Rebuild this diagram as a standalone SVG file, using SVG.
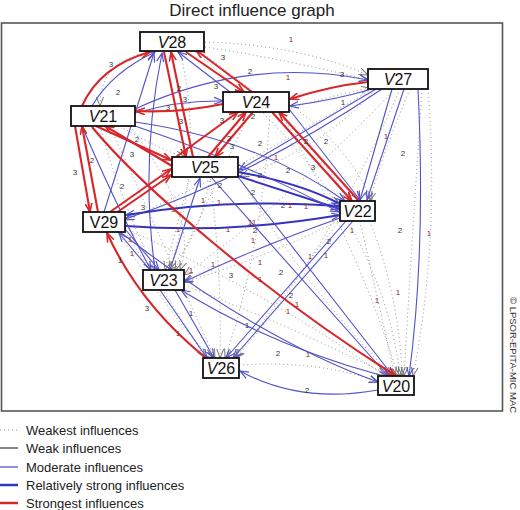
<svg xmlns="http://www.w3.org/2000/svg" width="520" height="510" viewBox="0 0 520 510">
<style>
text{font-family:"Liberation Sans",Arial,sans-serif}
.title{font-size:17px;fill:#222}
.frame{fill:#fff;stroke:#555;stroke-width:1.6}
.node rect{fill:#fff;stroke:#111;stroke-width:1.8}
.node text{font-size:16px;fill:#111;text-anchor:middle}
.r{fill:none;stroke:#d8262a;stroke-width:2.1;marker-end:url(#ar)}
.b{fill:none;stroke:#5252c8;stroke-width:1.1;marker-end:url(#ab)}
.bb{fill:none;stroke:#3434bf;stroke-width:2;marker-end:url(#ab)}
.d{fill:none;stroke:#8c8c8c;stroke-width:1;stroke-dasharray:1 3;marker-end:url(#ad)}
.lb{font-size:8px;fill:#333;text-anchor:middle}
.l1{font-size:8px;fill:#8b2a2a;text-anchor:middle}
.leg{font-size:13px;fill:#222}
.copy{font-size:9.5px;fill:#333}
</style>
<defs>
<marker id="ar" markerUnits="userSpaceOnUse" markerWidth="10" markerHeight="8" refX="9" refY="4" orient="auto"><path d="M0,0.5 L9,4 L0,7.5" fill="none" stroke="#d8262a" stroke-width="1.6"/></marker>
<marker id="ab" markerUnits="userSpaceOnUse" markerWidth="10" markerHeight="8" refX="9" refY="4" orient="auto"><path d="M0,0.5 L9,4 L0,7.5" fill="none" stroke="#5252c8" stroke-width="1.2"/></marker>
<marker id="ad" markerUnits="userSpaceOnUse" markerWidth="10" markerHeight="8" refX="9" refY="4" orient="auto"><path d="M0,0.5 L9,4 L0,7.5" fill="none" stroke="#777" stroke-width="1"/></marker>
</defs>
<rect x="0" y="0" width="520" height="510" fill="#fff"/>
<text class="title" x="252" y="15.5" text-anchor="middle">Direct influence graph</text>
<rect class="frame" x="1.5" y="23" width="501" height="388"/>

<g id="connectors">
<!-- weakest (dotted) -->
<path class="d" d="M205,42 Q300,45 368,75"/>
<path class="d" d="M205,47 Q290,60 368,80"/>
<path class="d" d="M291,108 Q330,96 370,88"/>
<path class="d" d="M428,89 Q440,240 413,376"/>
<path class="d" d="M422,89 Q412,240 404,376"/>
<path class="d" d="M400,89 Q330,250 236,358"/>
<path class="d" d="M395,89 Q290,200 184,275"/>
<path class="d" d="M250,112 L175,270"/>
<path class="d" d="M270,112 Q262,250 225,358"/>
<path class="d" d="M360,221 L395,376"/>
<path class="d" d="M370,221 Q400,300 402,376"/>
<path class="d" d="M340,220 Q280,300 235,358"/>
<path class="d" d="M210,177 Q222,270 220,358"/>
<path class="d" d="M118,232 Q180,330 212,358"/>
<path class="d" d="M110,126 Q170,260 215,358"/>
<path class="d" d="M180,52 Q205,150 170,270"/>
<path class="d" d="M200,52 Q300,120 350,201"/>
<path class="d" d="M190,177 L165,270"/>
<path class="d" d="M125,228 Q280,300 385,376"/>
<path class="d" d="M184,285 Q300,330 390,376"/>
<path class="d" d="M120,126 Q160,150 185,157"/>
<path class="d" d="M239,365 Q320,360 378,382"/>
<path class="d" d="M195,52 Q380,200 400,376"/>
<path class="d" d="M372,89 Q240,170 125,220"/>
<path class="d" d="M280,112 Q360,250 398,376"/>
<path class="d" d="M100,126 Q120,200 155,270"/>
<path class="d" d="M375,90 Q320,150 240,176"/>
<path class="d" d="M410,89 Q380,160 370,201"/>
<path class="d" d="M300,112 Q350,150 372,201"/>
<path class="d" d="M240,177 Q300,280 392,376"/>
<path class="d" d="M125,232 Q170,300 205,358"/>
<path class="d" d="M130,126 Q200,220 180,270"/>
<path class="d" d="M338,221 Q260,260 184,282"/>
<path class="d" d="M210,177 Q200,240 168,270"/>
<path class="d" d="M150,52 Q100,60 100,106"/>
<!-- moderate / relatively strong (blue) -->
<path class="b" d="M92,106 Q112,72 155,52"/>
<path class="b" d="M135,109 Q250,56 368,80"/>
<path class="b" d="M135,113 Q180,100 223,101"/>
<path class="b" d="M372,89 Q335,100 290,106"/>
<path class="b" d="M104,212 L154,53"/>
<path class="b" d="M155,270 Q140,160 162,53"/>
<path class="b" d="M230,92 L178,52"/>
<path class="b" d="M135,122 Q260,140 345,201"/>
<path class="bb" d="M238,172 Q300,183 340,204"/>
<path class="bb" d="M238,176 Q300,196 340,209"/>
<path class="b" d="M289,109 L360,200"/>
<path class="b" d="M392,89 L360,200"/>
<path class="b" d="M404,89 L367,200"/>
<path class="b" d="M376,89 L239,170"/>
<path class="b" d="M382,89 Q250,178 125,219"/>
<path class="b" d="M418,89 Q426,250 409,376"/>
<path class="bb" d="M340,206 Q230,198 126,215"/>
<path class="bb" d="M126,226 Q230,234 340,215"/>
<path class="b" d="M150,270 L119,233"/>
<path class="b" d="M125,229 L159,270"/>
<path class="b" d="M82,126 Q118,210 151,270"/>
<path class="b" d="M353,221 L233,358"/>
<path class="b" d="M346,221 L226,358"/>
<path class="b" d="M211,177 L388,376"/>
<path class="b" d="M238,177 L393,376"/>
<path class="b" d="M380,375 Q270,345 181,290"/>
<path class="b" d="M378,390 Q300,404 240,371"/>
<path class="b" d="M120,232 Q260,340 378,382"/>
<path class="b" d="M160,290 L207,358"/>
<path class="b" d="M175,290 L214,358"/>
<path class="b" d="M170,270 L200,178"/>
<path class="b" d="M135,126 Q250,165 339,212"/>
<path class="b" d="M340,218 Q250,250 184,282"/>
<!-- strongest (red) -->
<path class="r" d="M82,106 Q100,66 150,52"/>
<path class="r" d="M164,52 L186,157"/>
<path class="r" d="M193,157 L171,52"/>
<path class="r" d="M186,52 L244,92"/>
<path class="r" d="M252,92 L196,50"/>
<path class="r" d="M223,104 Q180,113 136,111"/>
<path class="r" d="M368,82 Q330,86 290,99"/>
<path class="r" d="M272,112 L352,201"/>
<path class="r" d="M359,201 L279,112"/>
<path class="r" d="M208,157 L246,112"/>
<path class="r" d="M253,112 L215,157"/>
<path class="r" d="M176,157 L238,112"/>
<path class="r" d="M96,126 L171,160"/>
<path class="r" d="M172,166 L105,126"/>
<path class="r" d="M75,126 L90,212"/>
<path class="r" d="M98,212 L82,126"/>
<path class="r" d="M110,212 L171,169"/>
<path class="r" d="M116,213 L171,175"/>
<path class="r" d="M92,127 C140,185 260,290 396,376"/>
<path class="r" d="M206,358 Q140,305 107,233"/>
</g>

<g id="labels">
<text class="lb" x="111" y="67">3</text>
<text class="lb" x="118" y="95">2</text>
<text class="lb" x="179" y="91">2</text>
<text class="lb" x="185" y="102">3</text>
<text class="lb" x="168" y="110">3</text>
<text class="lb" x="181" y="124">3</text>
<text class="lb" x="137" y="142">2</text>
<text class="lb" x="132" y="157">3</text>
<text class="lb" x="75" y="175">3</text>
<text class="lb" x="92" y="163">2</text>
<text class="lb" x="223" y="60">3</text>
<text class="lb" x="250" y="74">2</text>
<text class="lb" x="216" y="89">3</text>
<text class="lb" x="222" y="123">3</text>
<text class="lb" x="229" y="141">2</text>
<text class="lb" x="232" y="149">3</text>
<text class="lb" x="253" y="119">2</text>
<text class="l1" x="291" y="42">1</text>
<text class="l1" x="288" y="80">1</text>
<text class="lb" x="342" y="77">3</text>
<text class="lb" x="343" y="105">1</text>
<text class="l1" x="386" y="139">1</text>
<text class="lb" x="403" y="156">2</text>
<text class="lb" x="260" y="146">2</text>
<text class="lb" x="306" y="144">2</text>
<text class="lb" x="326" y="144">2</text>
<text class="l1" x="276" y="160">1</text>
<text class="lb" x="313" y="170">3</text>
<text class="lb" x="288" y="173">2</text>
<text class="lb" x="260" y="178">2</text>
<text class="lb" x="220" y="188">2</text>
<text class="lb" x="253" y="195">2</text>
<text class="lb" x="122" y="189">2</text>
<text class="lb" x="143" y="210">3</text>
<text class="l1" x="173" y="212">1</text>
<text class="l1" x="203" y="203">1</text>
<text class="l1" x="219" y="205">1</text>
<text class="lb" x="283" y="208">2</text>
<text class="l1" x="290" y="208">1</text>
<text class="l1" x="306" y="209">1</text>
<text class="l1" x="252" y="225">11</text>
<text class="lb" x="255" y="233">2</text>
<text class="l1" x="253" y="243">1</text>
<text class="l1" x="178" y="232">1</text>
<text class="l1" x="228" y="232">1</text>
<text class="l1" x="130" y="242">1</text>
<text class="l1" x="132" y="256">1</text>
<text class="lb" x="120" y="263">1</text>
<text class="l1" x="352" y="233">1</text>
<text class="lb" x="329" y="244">2</text>
<text class="l1" x="326" y="258">1</text>
<text class="l1" x="310" y="259">1</text>
<text class="l1" x="260" y="265">1</text>
<text class="l1" x="213" y="267">1</text>
<text class="l1" x="191" y="273">1</text>
<text class="lb" x="231" y="278">3</text>
<text class="lb" x="281" y="275">2</text>
<text class="l1" x="260" y="282">1</text>
<text class="lb" x="291" y="298">2</text>
<text class="l1" x="297" y="307">1</text>
<text class="l1" x="288" y="314">1</text>
<text class="l1" x="377" y="303">1</text>
<text class="l1" x="398" y="295">1</text>
<text class="lb" x="400" y="233">2</text>
<text class="l1" x="429" y="236">1</text>
<text class="lb" x="147" y="311">3</text>
<text class="lb" x="191" y="316">1</text>
<text class="l1" x="178" y="336">1</text>
<text class="lb" x="247" y="328">1</text>
<text class="lb" x="278" y="356">2</text>
<text class="l1" x="308" y="357">1</text>
<text class="lb" x="307" y="393">2</text>
</g>

<g id="V28" class="node"><rect x="140" y="32" width="64" height="19"/><text x="172" y="47.5"><tspan font-style="italic">V</tspan>28</text></g>
<g id="V27" class="node"><rect x="368" y="69" width="60" height="20"/><text x="398" y="85"><tspan font-style="italic">V</tspan>27</text></g>
<g id="V21" class="node"><rect x="71" y="106" width="64" height="20"/><text x="103" y="122"><tspan font-style="italic">V</tspan>21</text></g>
<g id="V24" class="node"><rect x="223" y="92" width="66" height="20"/><text x="256" y="108"><tspan font-style="italic">V</tspan>24</text></g>
<g id="V25" class="node"><rect x="172" y="157" width="66" height="20"/><text x="205" y="173"><tspan font-style="italic">V</tspan>25</text></g>
<g id="V22" class="node"><rect x="340" y="201" width="35" height="20"/><text x="357.5" y="217"><tspan font-style="italic">V</tspan>22</text></g>
<g id="V29" class="node"><rect x="83" y="212" width="42" height="20"/><text x="104" y="228">V29</text></g>
<g id="V23" class="node"><rect x="143" y="270" width="41" height="20"/><text x="163.5" y="286"><tspan font-style="italic">V</tspan>23</text></g>
<g id="V26" class="node"><rect x="203" y="358" width="36" height="20"/><text x="221" y="374"><tspan font-style="italic">V</tspan>26</text></g>
<g id="V20" class="node"><rect x="378" y="376" width="36" height="19"/><text x="396" y="391.5"><tspan font-style="italic">V</tspan>20</text></g>

<g id="legend">
<line x1="0" y1="430" x2="18" y2="430" stroke="#999" stroke-width="1" stroke-dasharray="1 3"/>
<line x1="0" y1="448" x2="18" y2="448" stroke="#444" stroke-width="1.3"/>
<line x1="0" y1="467" x2="18" y2="467" stroke="#5252c8" stroke-width="1.3"/>
<line x1="0" y1="485" x2="18" y2="485" stroke="#3434bf" stroke-width="2.5"/>
<line x1="0" y1="503" x2="18" y2="503" stroke="#d8262a" stroke-width="2.5"/>
<text class="leg" x="26" y="434.5">Weakest influences</text>
<text class="leg" x="26" y="452.5">Weak influences</text>
<text class="leg" x="26" y="471.5">Moderate influences</text>
<text class="leg" x="26" y="489.5">Relatively strong influences</text>
<text class="leg" x="26" y="507.5">Strongest influences</text>
</g>
<text class="copy" transform="translate(510,297) rotate(90)">© LPSOR-EPITA-MIC MAC</text>
</svg>
